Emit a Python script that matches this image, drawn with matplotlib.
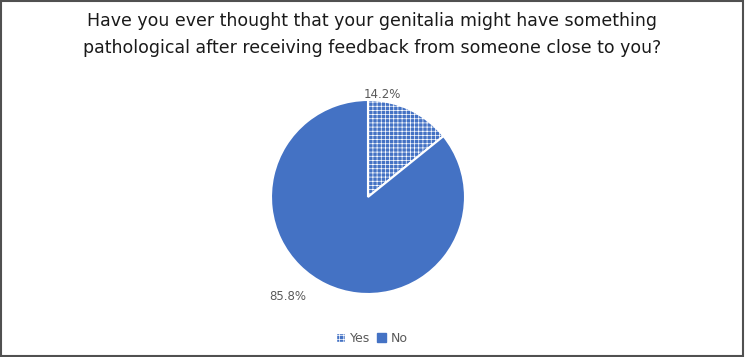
import matplotlib.pyplot as plt
from matplotlib.patches import Rectangle, Patch

labels = ['Yes', 'No']
shares = [14.2, 85.8]
pct_text = ['14.2%', '85.8%']

blue = '#4472C4'
plt.rcParams['hatch.linewidth'] = 0.5

fig = plt.figure(figsize=(7.45, 3.57), dpi=100)
ax = fig.add_axes([0, 0, 1, 1])
ax.set_xlim(0, 745)
ax.set_ylim(357, 0)
ax.axis('off')

# pie drawn in its own square axes, centre ~ (368, 197), radius ~ 97 px
cx, cy, r = 368, 197, 97
pax = fig.add_axes([(cx - r) / 745, 1 - (cy + r) / 357, 2 * r / 745, 2 * r / 357])
wedges, _ = pax.pie(shares, startangle=90, counterclock=False, colors=[blue, blue],
                    wedgeprops=dict(edgecolor='white', linewidth=1.5))
wedges[0].set_hatch('++++')
pax.set_xlim(-1, 1)
pax.set_ylim(-1, 1)
pax.set_aspect('equal')

# percentage labels
ax.text(382, 94, pct_text[0], ha='center', va='center', fontsize=8.5, color='#595959')
ax.text(288, 297, pct_text[1], ha='center', va='center', fontsize=8.5, color='#595959')

# title
ax.text(372, 21, 'Have you ever thought that your genitalia might have something',
        ha='center', va='center', fontsize=12.5, color='#1a1a1a')
ax.text(372, 48, 'pathological after receiving feedback from someone close to you?',
        ha='center', va='center', fontsize=12.5, color='#1a1a1a')

# legend
handles = [Patch(facecolor=blue, edgecolor='white', hatch='++++', label=labels[0]),
           Patch(facecolor=blue, edgecolor=blue, label=labels[1])]
fig.legend(handles=handles, loc='center', bbox_to_anchor=(372 / 745, 1 - 338 / 357),
           ncol=2, frameon=False, fontsize=9, handlelength=0.7, handleheight=0.7,
           handletextpad=0.4, columnspacing=0.6, labelcolor='#595959')

# outer frame
fig.patches.append(Rectangle((0.001, 0.003), 0.996, 0.995, transform=fig.transFigure,
                             fill=False, edgecolor='#505050', linewidth=1.5))

fig.savefig('out.png', dpi=100)
